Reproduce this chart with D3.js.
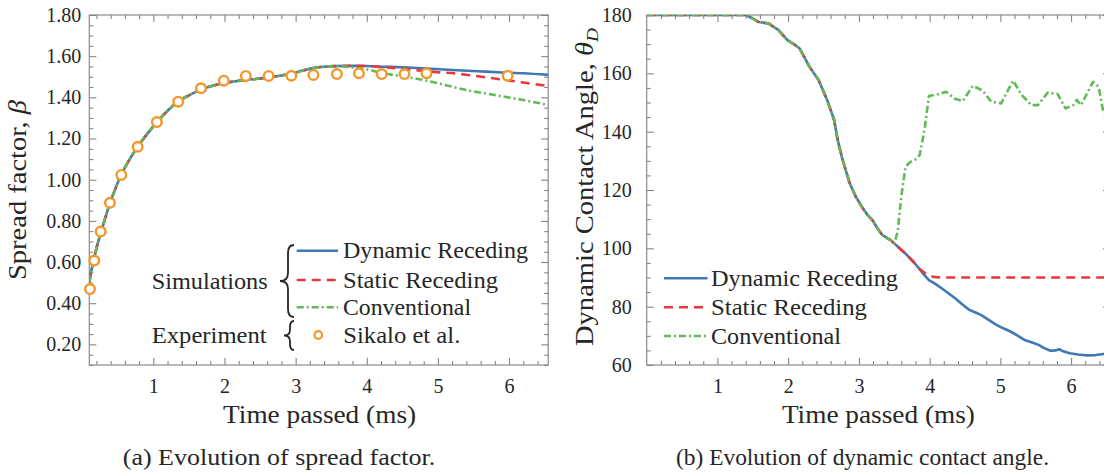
<!DOCTYPE html>
<html><head><meta charset="utf-8">
<script src="https://cdn.jsdelivr.net/npm/d3@7"></script>
<style>html,body{margin:0;padding:0;background:#fff;} svg{display:block;} svg text{font-family:"Liberation Serif","DejaVu Serif",serif !important;}</style>
</head><body><svg id="c" width="1104" height="473"></svg>
<script>
// ---------- Panel (a): spread factor ----------
const seriesNames = ["Dynamic Receding", "Static Receding", "Conventional"];
const experimentName = "Sikalo et al.";
const spreadCommonTime  = [0.10,0.13,0.17,0.21,0.26,0.32,0.39,0.47,0.55,0.66,0.78,0.92,1.05,1.20,1.35,1.50,1.65,1.82,2.00,2.15,2.30,2.46,2.62,2.78,2.94,3.10,3.25,3.40,3.60];
const spreadCommonValue = [0.50,0.56,0.62,0.68,0.74,0.81,0.885,0.96,1.025,1.095,1.16,1.225,1.28,1.335,1.38,1.41,1.435,1.455,1.47,1.478,1.485,1.49,1.497,1.505,1.515,1.53,1.542,1.549,1.552];
const spreadDynamicTime  = [3.80,4.00,4.25,4.50,4.85,5.20,5.55,5.90,6.20,6.55];
const spreadDynamicValue = [1.553,1.552,1.549,1.546,1.540,1.533,1.527,1.521,1.517,1.509];
const spreadStaticTime   = [3.80,4.00,4.30,4.68,5.00,5.22,5.50,5.87,6.20,6.55];
const spreadStaticValue  = [1.553,1.552,1.545,1.533,1.522,1.517,1.505,1.488,1.472,1.455];
const spreadConvTime     = [3.76,4.00,4.23,4.50,4.84,5.10,5.40,5.87,6.20,6.55];
const spreadConvValue    = [1.546,1.536,1.517,1.502,1.481,1.460,1.436,1.407,1.387,1.363];
const sikaloTime  = [0.11,0.17,0.26,0.39,0.55,0.78,1.05,1.35,1.67,1.99,2.30,2.62,2.94,3.25,3.58,3.89,4.21,4.53,4.84,5.98];
const sikaloValue = [0.469,0.607,0.748,0.888,1.023,1.16,1.28,1.379,1.444,1.481,1.504,1.504,1.505,1.509,1.513,1.517,1.513,1.513,1.517,1.505];
const spreadYTicks = [0.2,0.4,0.6,0.8,1.0,1.2,1.4,1.6,1.8];
const timeTicks = [1,2,3,4,5,6];

// ---------- Panel (b): dynamic contact angle ----------
const angleCommonTime  = [0,0.5,1.0,1.40,1.50,1.57,1.72,1.86,1.99,2.08,2.16,2.23,2.30,2.43,2.55,2.65,2.70,2.77,2.87,2.95,3.04,3.12,3.19,3.26,3.33,3.40,3.45];
const angleCommonValue = [180,180,180,180,178.8,177.7,177.1,174.9,171.4,170,168.6,165.5,162.3,157.7,150.9,144,137.1,130.3,122.3,118,114.3,111.5,109.7,107,104.6,103.5,102.8];
const angleDynamicTime  = [3.50,3.59,3.68,3.77,3.85,3.92,3.99,4.08,4.17,4.27,4.36,4.46,4.56,4.65,4.73,4.84,4.95,5.05,5.15,5.25,5.34,5.44,5.54,5.62,5.71,5.78,5.83,5.90,5.98,6.10,6.22,6.35,6.46,6.55];
const angleDynamicValue = [101.7,99.7,97.7,95.4,93.1,91,89.1,87.8,86.3,84.5,82.9,80.8,78.9,78,77.1,75.4,73.7,72.5,71.4,70,68.6,67.8,66.9,65.8,64.9,65,65.4,64.6,64,63.6,63.3,63.4,63.8,63.8];
const angleStaticTime  = [3.50,3.59,3.68,3.77,3.85,3.95,4.05,4.15,6.55];
const angleStaticValue = [101.7,99.7,97.7,95.4,93.1,91.2,90.2,90,90];
const angleConvTime  = [3.50,3.55,3.60,3.66,3.72,3.80,3.86,3.93,3.99,4.07,4.15,4.23,4.35,4.47,4.61,4.75,4.87,5.01,5.18,5.30,5.44,5.53,5.67,5.81,5.92,6.03,6.08,6.14,6.31,6.39,6.45,6.55];
const angleConvValue = [101.5,106,118,128,129.5,130.5,132,141,152.2,152.6,153,153.7,151.4,150.5,155.7,154.1,150.3,149.7,157.5,152.6,149.1,149.1,153.4,152.9,148,149.1,150.9,149.1,157.1,155.4,147.4,143];
const angleYTicks = [60,80,100,120,140,160,180];

// ---------- styling ----------
const FONT = "Liberation Serif, DejaVu Serif, serif";
const COLORS = ["#3f78b4", "#e8383d", "#62b957"];
const DASH = [null, "9,6", "7,3,2,3"];
const ORANGE = "#f5962a";
const TXT = "#262626";

const svg = d3.select("#c");
const zip = (t, v) => t.map((d, i) => [d, v[i]]);

function drawFrame(g, x, y, xMinor, yMajor, yMinor, yFmt, yPad, id) {
  const [x0, x1] = x.range(), [yb, yt] = y.range();
  const style = sel => {
    sel.attr("font-family", null);
    sel.select(".domain").remove();
    sel.selectAll("line").attr("stroke", "#7a7a7a").attr("stroke-width", 1);
    sel.selectAll("text").style("font-family", FONT).attr("font-size", 20).attr("fill", TXT);
  };
  g.append("g").attr("transform", `translate(0,${yb})`)
    .call(d3.axisBottom(x).tickValues(timeTicks).tickSize(-7).tickPadding(14).tickFormat(d3.format("d"))).call(style);
  g.append("g").attr("transform", `translate(0,${yt})`)
    .call(d3.axisTop(x).tickValues(timeTicks).tickSize(-7).tickFormat("")).call(style);
  g.append("g").attr("transform", `translate(${x0},0)`)
    .call(d3.axisLeft(y).tickValues(yMajor).tickSize(-7).tickPadding(yPad).tickFormat(yFmt)).call(style);
  g.append("g").attr("transform", `translate(${x1},0)`)
    .call(d3.axisRight(y).tickValues(yMajor).tickSize(-7).tickFormat("")).call(style);
  g.append("g").attr("transform", `translate(0,${yb})`).call(d3.axisBottom(x).tickValues(xMinor).tickSize(-4).tickFormat("")).call(style);
  g.append("g").attr("transform", `translate(0,${yt})`).call(d3.axisTop(x).tickValues(xMinor).tickSize(-4).tickFormat("")).call(style);
  g.append("g").attr("transform", `translate(${x0},0)`).call(d3.axisLeft(y).tickValues(yMinor).tickSize(-4).tickFormat("")).call(style);
  g.append("g").attr("transform", `translate(${x1},0)`).call(d3.axisRight(y).tickValues(yMinor).tickSize(-4).tickFormat("")).call(style);
  g.append("rect").attr("x", x0).attr("y", yt).attr("width", x1 - x0).attr("height", yb - yt)
    .attr("fill", "none").attr("stroke", "#8a8a8a").attr("stroke-width", 1.2);
  svg.append("clipPath").attr("id", id).append("rect")
    .attr("x", x0).attr("y", yt).attr("width", x1 - x0).attr("height", yb - yt);
}

function text(g, str, x, y, size, opts = {}) {
  const t = g.append("text").attr("x", x).attr("y", y).attr("dy", "0.33em")
    .style("font-family", FONT).attr("font-size", size).attr("fill", TXT)
    .attr("text-anchor", opts.anchor || "start").text(str);
  if (opts.len) t.attr("textLength", opts.len).attr("lengthAdjust", "spacingAndGlyphs");
  return t;
}

function brace(xTip, xEnd, y1, y2) {
  const ym = (y1 + y2) / 2, xs = (xTip + xEnd) / 2 + 1, r = Math.min(8, (y2 - y1) / 5);
  return `M${xEnd},${y1} Q${xs},${y1} ${xs},${y1 + r} L${xs},${ym - r} Q${xs},${ym} ${xTip},${ym}` +
         ` Q${xs},${ym} ${xs},${ym + r} L${xs},${y2 - r} Q${xs},${y2} ${xEnd},${y2}`;
}

// ================= Panel (a) =================
const xa = d3.scaleLinear().domain([0.1, 6.55]).range([89.3, 548.2]);
const ya = d3.scaleLinear().domain([0.1, 1.8]).range([365, 15]);
const ga = svg.append("g");
const minorTimeA = d3.range(1, 33).map(i => i * 0.2).filter(v => Math.abs(v - Math.round(v)) > 1e-6 && v >= 0.1 && v <= 6.55);
const minorSpread = d3.range(2, 37).map(i => i * 0.05).filter(v => Math.abs(v * 5 - Math.round(v * 5)) > 1e-6);
drawFrame(ga, xa, ya, minorTimeA, spreadYTicks, minorSpread, d3.format(".2f"), 8, "clipA");

const spreadSeries = [
  zip(spreadCommonTime.concat(spreadDynamicTime), spreadCommonValue.concat(spreadDynamicValue)),
  zip(spreadCommonTime.concat(spreadStaticTime), spreadCommonValue.concat(spreadStaticValue)),
  zip(spreadCommonTime.concat(spreadConvTime), spreadCommonValue.concat(spreadConvValue))
];
const lineA = d3.line().x(d => xa(d[0])).y(d => ya(d[1])).curve(d3.curveMonotoneX);
const pa = ga.append("g").attr("clip-path", "url(#clipA)");
spreadSeries.forEach((s, i) => {
  pa.append("path").datum(s).attr("d", lineA).attr("fill", "none")
    .attr("stroke", COLORS[i]).attr("stroke-width", 2.6)
    .attr("stroke-dasharray", DASH[i]);
});
ga.append("g").selectAll("circle").data(zip(sikaloTime, sikaloValue)).join("circle")
  .attr("cx", d => xa(d[0])).attr("cy", d => ya(d[1])).attr("r", 4.8)
  .attr("fill", "white").attr("stroke", ORANGE).attr("stroke-width", 2.4);

// legend (a)
const la = ga.append("g");
text(la, "Simulations", 151.7, 281, 23, { len: 116 });
text(la, "Experiment", 151.7, 335, 23, { len: 115 });
la.append("path").attr("d", brace(280, 294, 245, 317)).attr("fill", "none").attr("stroke", TXT).attr("stroke-width", 1.8);
la.append("path").attr("d", brace(284, 294, 321, 350)).attr("fill", "none").attr("stroke", TXT).attr("stroke-width", 1.8);
const legAy = [250.7, 280, 307.3], legALen = [185, 155, 128];
seriesNames.forEach((n, i) => {
  la.append("line").attr("x1", 296.7).attr("x2", 338).attr("y1", legAy[i]).attr("y2", legAy[i])
    .attr("stroke", COLORS[i]).attr("stroke-width", 2.6).attr("stroke-dasharray", DASH[i]);
  text(la, n, 343, legAy[i], 23, { len: legALen[i] });
});
la.append("circle").attr("cx", 318.3).attr("cy", 335).attr("r", 3.8)
  .attr("fill", "white").attr("stroke", ORANGE).attr("stroke-width", 2.2);
text(la, experimentName, 343.3, 335, 23, { len: 117 });

// titles (a)
text(ga, "Time passed (ms)", 319.6, 415, 25, { anchor: "middle", len: 193 });
const ta = ga.append("text").attr("x", 18).attr("y", 190).attr("dy", "0.33em")
  .attr("transform", "rotate(-90,18,190)").attr("text-anchor", "middle")
  .style("font-family", FONT).attr("font-size", 25).attr("fill", TXT)
  .attr("textLength", 180).attr("lengthAdjust", "spacingAndGlyphs");
ta.append("tspan").text("Spread factor, ");
ta.append("tspan").attr("font-style", "italic").text("β");
text(ga, "(a) Evolution of spread factor.", 279, 456.7, 24, { anchor: "middle", len: 312.5 });

// ================= Panel (b) =================
const xb = d3.scaleLinear().domain([0, 6.55]).range([646.7, 1110]);
const yb = d3.scaleLinear().domain([60, 180]).range([365, 15]);
const gb = svg.append("g");
const minorTimeB = d3.range(1, 33).map(i => i * 0.2).filter(v => Math.abs(v - Math.round(v)) > 1e-6);
const minorAngle = d3.range(13, 36).map(i => i * 5).filter(v => v % 20 !== 0);
drawFrame(gb, xb, yb, minorTimeB, angleYTicks, minorAngle, d3.format("d"), 15, "clipB");

const angleSeries = [
  zip(angleCommonTime.concat(angleDynamicTime), angleCommonValue.concat(angleDynamicValue)),
  zip(angleCommonTime.concat(angleStaticTime), angleCommonValue.concat(angleStaticValue)),
  zip(angleCommonTime.concat(angleConvTime), angleCommonValue.concat(angleConvValue))
];
const lineB = d3.line().x(d => xb(d[0])).y(d => yb(d[1]));
const pb = gb.append("g").attr("clip-path", "url(#clipB)");
angleSeries.forEach((s, i) => {
  pb.append("path").datum(s).attr("d", lineB).attr("fill", "none")
    .attr("stroke", COLORS[i]).attr("stroke-width", 2.6)
    .attr("stroke-dasharray", DASH[i]).attr("stroke-linejoin", "round");
});

// legend (b)
const legBy = [278.3, 307.3, 336], legBLen = [187, 156, 130];
seriesNames.forEach((n, i) => {
  gb.append("line").attr("x1", 664).attr("x2", 707.5).attr("y1", legBy[i]).attr("y2", legBy[i])
    .attr("stroke", COLORS[i]).attr("stroke-width", 2.6).attr("stroke-dasharray", DASH[i]);
  text(gb, n, 711, legBy[i], 23, { len: legBLen[i] });
});

// titles (b)
text(gb, "Time passed (ms)", 878.4, 415, 25, { anchor: "middle", len: 193 });
const tb = gb.append("text").attr("x", 585).attr("y", 187).attr("dy", "0.33em")
  .attr("transform", "rotate(-90,585,187)").attr("text-anchor", "middle")
  .style("font-family", FONT).attr("font-size", 25).attr("fill", TXT)
  .attr("textLength", 318).attr("lengthAdjust", "spacingAndGlyphs");
tb.append("tspan").text("Dynamic Contact Angle, ");
tb.append("tspan").attr("font-style", "italic").text("θ");
tb.append("tspan").attr("font-style", "italic").attr("font-size", 17).attr("dy", "0.3em").text("D");
text(gb, "(b) Evolution of dynamic contact angle.", 862.5, 456.7, 24, { anchor: "middle", len: 373 });
</script></body></html>
